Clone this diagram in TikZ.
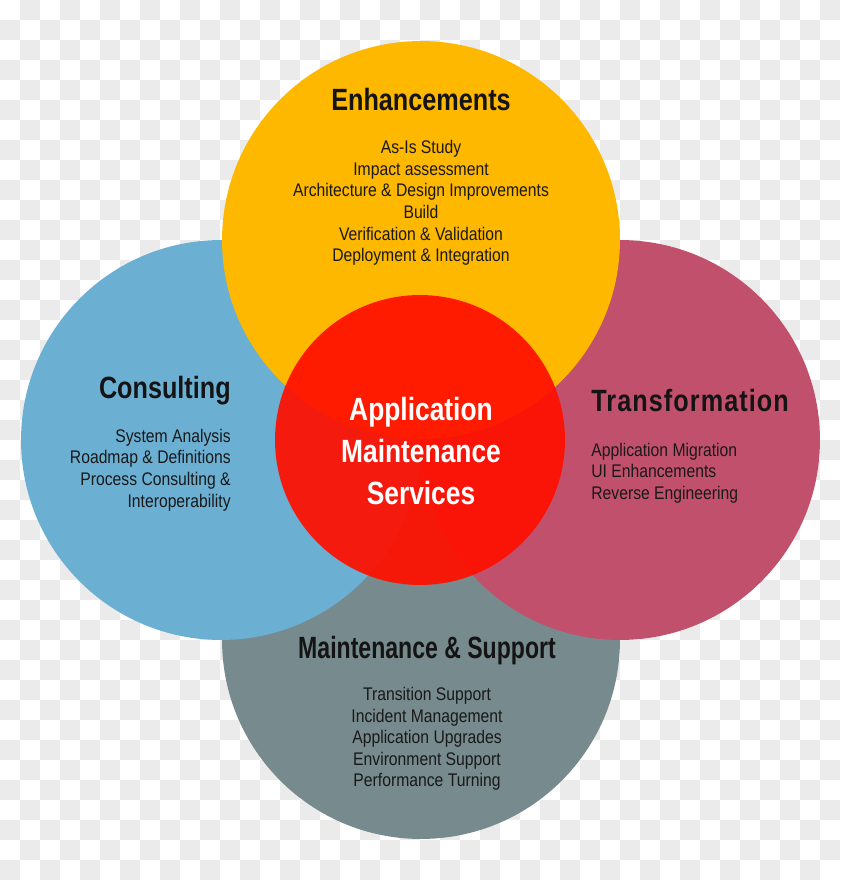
\documentclass[tikz,border=0pt]{standalone}
\usepackage{fontspec}
\setmainfont{Liberation Sans}[FakeStretch=0.86]
\newfontfamily\headfont{Liberation Sans}[FakeStretch=0.82]
\newfontfamily\headnarrow{Liberation Sans}[FakeStretch=0.75]
\newfontfamily\headwide{Liberation Sans}[FakeStretch=0.82, LetterSpace=3.5]
\usepackage{xcolor}
\usepackage{tikz}

\definecolor{checkgray}{HTML}{EBEBEB}
\definecolor{enhyellow}{HTML}{FFB800}
\definecolor{conblue}{HTML}{6BAFD3}
\definecolor{trapink}{HTML}{C1506D}
\definecolor{maigray}{HTML}{778A8D}
\definecolor{amsred}{HTML}{FF1000}

\tikzset{
    head/.style={font=\headfont\fontsize{17.5}{20}\selectfont\bfseries, text=black!92, inner sep=0pt},
    items/.style={font=\fontsize{10.4}{12.3}\selectfont, text=black!90, inner sep=0pt},
}

\begin{document}
\begin{tikzpicture}[x=0.02cm, y=-0.02cm]
    % checkered background
    \fill[white] (0, 0) rectangle (840, 880);
    \foreach \i in {1,3,...,41} \foreach \j in {0,2,...,42} \fill[checkgray] (20*\i, 20*\j) rectangle +(20, 20);
    \foreach \i in {0,2,...,40} \foreach \j in {1,3,...,43} \fill[checkgray] (20*\i, 20*\j) rectangle +(20, 20);
    % circles
    \fill[maigray] (421, 640) circle[radius=3.98cm];
    \fill[conblue] (221, 440) circle[radius=4cm];
    \fill[trapink] (620, 440) circle[radius=4cm];
    \fill[enhyellow] (421, 240) circle[radius=3.98cm];
    \fill[amsred, fill opacity=0.93] (420, 440) circle[radius=2.9cm];
    % enhancements
    \node[head] at (421, 100) (enh) {Enhancements};
    \node[items, align=center] at (421, 203) (enhl) {As-Is Study\\Impact assessment\\Architecture \& Design Improvements\\Build\\Verification \& Validation\\Deployment \& Integration};
    % consulting
    \node[head, anchor=east] at (231, 391) (con) {Consulting};
    \node[items, align=right, anchor=east] at (231, 470) (conl) {System Analysis\\Roadmap \& Definitions\\Process Consulting \&\\Interoperability};
    % transformation
    \node[head, font=\headwide\fontsize{17.5}{20}\selectfont\bfseries, anchor=west] at (591, 401) (tra) {Transformation};
    \node[items, align=left, anchor=west] at (591, 473) (tral) {Application Migration\\UI Enhancements\\Reverse Engineering};
    % maintenance and support
    \node[head, font=\headnarrow\fontsize{17.5}{20}\selectfont\bfseries] at (427, 651) (mai) {Maintenance \& Support};
    \node[items, align=center] at (427, 739) (mail) {Transition Support\\Incident Management\\Application Upgrades\\Environment Support\\Performance Turning};
    % center
    \node[font=\headfont\fontsize{18.3}{24}\selectfont\bfseries, text=white, align=center] at (421, 451) (ams) {Application\\Maintenance\\Services};
\end{tikzpicture}
\end{document}
